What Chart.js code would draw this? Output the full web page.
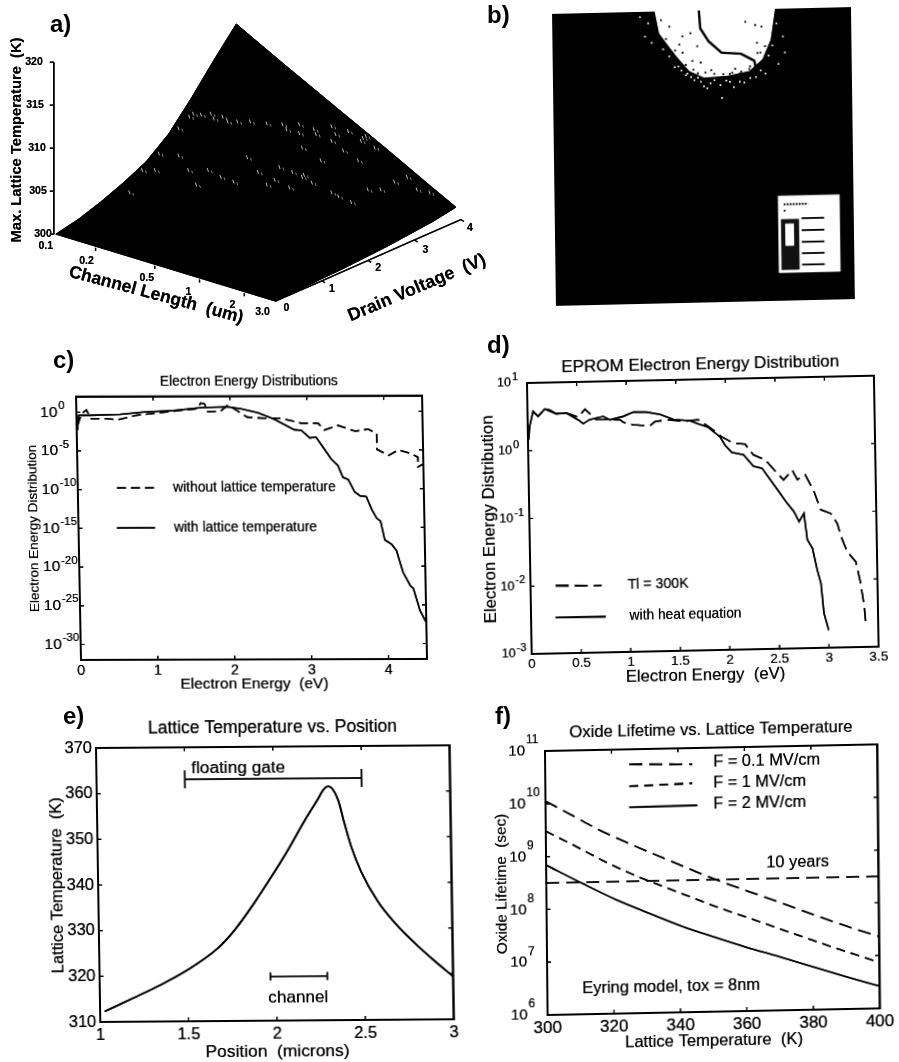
<!DOCTYPE html>
<html><head><meta charset="utf-8"><title>Lattice temperature figure</title>
<style>
html,body{margin:0;padding:0;background:#fff;width:899px;height:1062px;overflow:hidden}
#page{position:relative;width:899px;height:1062px;overflow:hidden}
canvas{position:absolute;display:block;filter:blur(.3px) drop-shadow(0 0 .45px rgba(0,0,0,.85))}
.lab{position:absolute;font:bold 24px "Liberation Sans",Arial,sans-serif;color:#000;line-height:1;filter:blur(.3px)}
</style></head><body><div id="page"></div>
<script src="https://cdn.jsdelivr.net/npm/chart.js@4"></script>
<script>
/* ---------- a) surface ---------- */
const aLengths=[0.1,0.2,0.5,1,2,3];
const aLengthLabels=['0.1','0.2','0.5','1','2','3.0'];
const aVoltages=[0,0.5,1,1.5,2,2.5,3,3.5,4];
const aTempAtShortChannel=[300,300.5,301.3,302.3,303.5,305.5,308.4,311.6,314.6];
const aTempAtLongChannel=[300,300,300.1,300.1,300.2,300.3,300.5,300.7,301.1];
const aTempAtMaxVoltage=[314.6,311.8,308.2,305.5,302.7,301.1];
const aTempTicks=[300,305,310,315,320];
const aVoltTicks=[0,1,2,3,4];
const aSpeckleX=[188,200,210,222,237,250,267,283,300,315,333,350,363,377,177,192,213,227,287,300,317,337,365,303,333,127,140,153,157,177,187,207,220,233,247,293,303,313,333,340,353,370,383,397,410,420,433,360,280,267,195,258,275,290,305,322,345,368];
const aSpeckleY=[115,113,112,115,120,120,122,123,123,128,125,130,140,147,127,112,117,120,128,132,133,133,137,147,140,193,170,170,153,155,170,170,177,182,157,172,177,183,193,197,203,190,190,182,177,190,193,160,167,185,185,172,180,188,175,160,150,135];
/* ---------- b) contour image ---------- */
const bBlobU=[34.5,35.9,38.6,41.9,45.7,50.5,58.1,65.7,70,72.8,74.4,74.4,34.5];
const bBlobV=[0,7.5,11.4,15.9,20.5,22.8,22.4,20.9,17.1,10.5,0,0,0];
const bContourU=[49.1,49.5,52.2,56.5,63,67.4,68.1];
const bContourV=[0,6.1,10.6,14.6,15.1,17.6,20.9];
const bDarkSpeckU=[39.2,43.5,46.2,42.4,49.5,46.7,48.4,43.5,64.6,67.9,70,68.4,71.1,69.5,65.7,59.2,62.5,36.4,38,41,44.5,47,51,54,57,60,63,66,48.5,53,61,68.5];
const bDarkSpeckV=[5.3,8.7,7.7,11.5,17.8,17.2,12.2,14.3,4.2,5.4,6,11.5,12.7,14.9,20.4,21.9,21.9,3,9.5,13.5,18.5,20.2,21.3,21.8,22,21.5,21.2,19.5,21.5,20.5,20.2,15];
const bLightSpeckU=[47.3,49.5,52.7,56,59.2,62.5,67.9,32.1,31,33.2,29.4,77.1,77.7,75.5,56.5,51.6,46.2,71.1,40.8,43,72.2,45,48.5,50.5,54,58,60.5,64,66,69.5,73.5,75,37,39,42,44.5];
const bLightSpeckV=[23.8,24.4,25,25.7,24.6,24.7,23.2,4,8.5,10.7,1.8,9.5,15,18.9,30.1,26.7,22.7,22.1,19.2,20.4,16,21.5,23,26,24,24.2,26.5,25,23.5,21,12.5,5,13,15.5,19,22];
const bKeyLevels=[71.9,76,80,83.9,87.8];
/* ---------- c) ---------- */
const cWithX=[0.01,0.03,0.18,0.57,0.88,1.27,1.62,1.97,2.14,2.36,2.57,2.83,2.92,3.03,3.11,3.26,3.30,3.39,3.45,3.52,3.60,3.67,3.75,3.82,3.88,3.93,3.98,4.07,4.13,4.21,4.30,4.34,4.42,4.5];
const cWithLog=[-2.3,-0.4,-0.4,-0.3,0,0.2,0.55,0.64,0.38,-0.13,-0.98,-2.34,-2.42,-3.4,-3.3,-5.5,-6.1,-7,-8.5,-8.8,-10.4,-10.9,-11,-12.7,-13.8,-14.2,-16.6,-17.2,-18,-20.8,-22.5,-22.9,-25.7,-27.3];
const cWithoutX=[0.01,0.07,0.13,0.19,0.4,0.53,0.79,1.05,1.35,1.57,1.62,1.67,1.71,1.88,1.97,2.05,2.22,2.44,2.66,2.92,3.14,3.22,3.4,3.62,3.79,3.9,3.9,4.05,4.18,4.35,4.43,4.43,4.5];
const cWithoutLog=[-1.7,-0.2,0.3,-0.85,-0.85,-1,-0.4,-0.13,0.2,0.4,1.15,1,0,0.1,0.85,0.4,-0.7,-0.85,-0.85,-1.5,-1.5,-2.4,-1.8,-2.55,-2.3,-2.85,-4.9,-5.7,-5,-5.5,-5.95,-7.2,-6.8];
const cXTicks=[0,1,2,3,4];
const cYTicks=[0,-5,-10,-15,-20,-25,-30];
/* ---------- d) ---------- */
const dHeatX=[0.007,0.02,0.056,0.106,0.174,0.225,0.29,0.39,0.51,0.56,0.625,0.763,0.83,0.966,1.067,1.2,1.337,1.47,1.64,1.72,1.82,1.94,1.99,2.055,2.17,2.27,2.355,2.52,2.6,2.67,2.72,2.77,2.8,2.85,2.895,2.93,2.955,3.0];
const dHeatLog=[0.16,0.36,0.58,0.505,0.61,0.595,0.537,0.545,0.44,0.382,0.44,0.483,0.43,0.478,0.537,0.533,0.495,0.417,0.392,0.342,0.29,0.14,0.014,-0.088,-0.125,-0.3,-0.33,-0.68,-0.85,-0.98,-1.13,-1.01,-1.4,-1.53,-1.85,-2.05,-2.49,-2.74];
const dTl300X=[0.056,0.106,0.174,0.29,0.39,0.51,0.58,0.69,0.93,0.965,1.065,1.23,1.285,1.4,1.57,1.72,1.87,1.95,2.07,2.19,2.27,2.39,2.49,2.57,2.66,2.71,2.79,2.875,2.94,3.04,3.105,3.14,3.2,3.285,3.325,3.36,3.375];
const dTl300Log=[0.58,0.505,0.61,0.537,0.545,0.48,0.595,0.44,0.43,0.39,0.35,0.33,0.39,0.415,0.385,0.405,0.25,0.15,0.05,0.03,-0.13,-0.21,-0.38,-0.51,-0.37,-0.51,-0.44,-0.69,-0.96,-1.02,-1.17,-1.36,-1.59,-1.74,-2.02,-2.37,-2.64];
const dXTicks=[0,0.5,1,1.5,2,2.5,3,3.5];
const dYTicks=[1,0,-1,-2,-3];
/* ---------- e) ---------- */
const ePosition=[1.026,1.19,1.344,1.497,1.67,1.766,1.88,1.979,2.076,2.173,2.25,2.285,2.31,2.335,2.365,2.40,2.436,2.49,2.58,2.675,2.806,2.90,3.0];
const eTemperature=[312.3,315.2,318,321.2,325.9,329.8,335.7,341.4,347.3,353.7,358.4,360.6,361.2,360.6,358.2,352.9,347.9,342.4,336,331.2,326,322.7,319.4];
const eFloatingGateX=[1.5,2.5];
const eFloatingGateY=[363,363];
const eChannelX=[1.966,2.288];
const eChannelY=[319.7,319.7];
const eXTicks=[1,1.5,2,2.5,3];
const eYTicks=[310,320,330,340,350,360,370];
/* ---------- f) ---------- */
const fSolidX=[300,311.1,320.9,330.8,340.7,350.5,360.4,370.3,380.1,390,400];
const fSolidLog=[8.84,8.47,8.16,7.89,7.63,7.41,7.20,7.01,6.81,6.61,6.42];
const fLowX=[300,308.3,316.2,325.6,334.9,344.3,348.7,352.2,360.6,370.4,380.3,390.2,400];
const fLowLog=[10.05,9.76,9.48,9.20,8.94,8.68,8.56,8.47,8.27,8.04,7.80,7.57,7.36];
const fMidX=[300,308.2,318.1,326,334.8,344.2,352.6,360.5,370.3,380.2,388.1,395,400];
const fMidLog=[9.48,9.21,8.87,8.63,8.40,8.16,7.95,7.77,7.54,7.31,7.13,6.98,6.87];
const fTenYearsX=[300,400];
const fTenYearsLog=[8.5,8.5];
const fXTicks=[300,320,340,360,380,400];
const fYTicks=[11,10,9,8,7,6];

const FONT='"Liberation Sans",Arial,sans-serif';
const page=document.getElementById('page');
const xy=(xs,ys)=>xs.map((x,i)=>({x,y:ys[i]}));
const logxy=(xs,ys)=>xs.map((x,i)=>({x,y:Math.pow(10,ys[i])}));
const pow10=a=>a.map(e=>Math.pow(10,e));
const setTicks=vals=>s=>{s.ticks=vals.map(value=>({value}));};
const curve=(data,dash,w)=>({data,showLine:true,pointRadius:0,borderColor:'#000',borderWidth:w||1.6,borderDash:dash||[],tension:0,fill:false});
const smooth=d=>Object.assign(d,{cubicInterpolationMode:'monotone'});

function panel(p){
  const w=p.tr[0]-p.tl[0],h=p.bl[1]-p.tl[1];
  const b=(p.tr[1]-p.tl[1])/w,c=(p.bl[0]-p.tl[0])/h,det=1-b*c;
  const L=p.left||0,T=p.top||0,R=p.right||0,B=p.bottom||0;
  const cv=document.createElement('canvas');
  cv.width=Math.round(w+L+R);cv.height=Math.round(h+T+B);
  cv.style.left=(p.tl[0]-L)+'px';cv.style.top=(p.tl[1]-T)+'px';
  cv.style.transformOrigin=L+'px '+T+'px';
  cv.style.transform='matrix(1,'+b+','+c+',1,0,0)';
  page.appendChild(cv);
  const loc=(x,y)=>{const dx=x-p.tl[0],dy=y-p.tl[1];return [L+(dx-c*dy)/det,T+(dy-b*dx)/det];};
  const decor={id:'decor',afterDraw(ch){
    const ctx=ch.ctx,a=ch.chartArea;
    ctx.save();ctx.fillStyle='#000';ctx.strokeStyle='#000';ctx.lineCap='butt';
    if(p.frame){
      ctx.setLineDash([]);ctx.lineWidth=p.frame;
      ctx.strokeRect(a.left,a.top,a.right-a.left,a.bottom-a.top);
      ctx.lineWidth=1.2;ctx.beginPath();
      ch.scales.x.ticks.forEach(t=>{const X=ch.scales.x.getPixelForValue(t.value);
        ctx.moveTo(X,a.bottom);ctx.lineTo(X,a.bottom-4);ctx.moveTo(X,a.top);ctx.lineTo(X,a.top+4);});
      ch.scales.y.ticks.forEach(t=>{const Y=ch.scales.y.getPixelForValue(t.value);
        ctx.moveTo(a.left,Y);ctx.lineTo(a.left+4,Y);ctx.moveTo(a.right,Y);ctx.lineTo(a.right-4,Y);});
      ctx.stroke();
    }
    if(p.exp){
      ctx.font=p.exp.size+'px '+FONT;ctx.textAlign='left';ctx.textBaseline='middle';
      ch.scales.y.ticks.forEach(t=>{const Y=ch.scales.y.getPixelForValue(t.value);
        ctx.fillText(String(Math.round(Math.log10(t.value))),a.left-p.exp.pad+1,Y+p.exp.dy);});
    }
    (p.lines||[]).forEach(l=>{const s=loc(l[0],l[1]),e=loc(l[2],l[3]);
      ctx.lineWidth=l[5]||1.6;ctx.setLineDash(l[4]||[]);ctx.beginPath();ctx.moveTo(s[0],s[1]);ctx.lineTo(e[0],e[1]);ctx.stroke();});
    ctx.setLineDash([]);
    (p.notes||[]).forEach(n=>{
      const q=loc(n.x,n.y),wt=n.bold?'bold ':'';let sz=n.size||12;
      ctx.font=wt+sz+'px '+FONT;
      if(n.w){sz=sz*n.w/ctx.measureText(n.t).width;ctx.font=wt+sz+'px '+FONT;}
      ctx.textAlign=n.align||'left';ctx.textBaseline='middle';
      ctx.save();ctx.translate(q[0],q[1]);if(n.rot)ctx.rotate(n.rot*Math.PI/180);ctx.fillText(n.t,0,0);ctx.restore();
    });
    if(p.draw)p.draw(ch,ctx);
    ctx.restore();
  }};
  const cfg=p.config;
  cfg.options=Object.assign({responsive:false,animation:false,devicePixelRatio:1,events:[]},cfg.options);
  cfg.options.plugins=Object.assign({legend:{display:false},tooltip:{enabled:false}},cfg.options.plugins);
  cfg.plugins=[decor];
  return new Chart(cv,cfg);
}
function stdOptions(o){
  return {
    layout:{padding:{left:0,top:0,right:o.right,bottom:0}},
    plugins:{title:{display:true,text:o.title,fullSize:false,color:'#000',
      font:{family:FONT,size:o.titleSize,weight:'normal',lineHeight:1},
      padding:{top:o.top-o.titleDist-o.titleSize/2,bottom:o.titleDist-o.titleSize/2}}},
    scales:{
      x:{type:'linear',min:o.xMin,max:o.xMax,afterBuildTicks:setTicks(o.xTicks),
        afterFit:s=>{s.height=o.bottom;},
        grid:{display:false,drawTicks:false},border:{display:false},
        ticks:{autoSkip:false,maxRotation:0,minRotation:0,color:'#000',font:{family:FONT,size:o.xTickSize,lineHeight:1},padding:o.xPad,callback:v=>String(v)},
        title:{display:true,text:o.xTitle,color:'#000',padding:0,font:{family:FONT,size:o.xTitleSize,lineHeight:1}}},
      y:{type:o.yLog?'logarithmic':'linear',min:o.yMin,max:o.yMax,afterBuildTicks:setTicks(o.yTicks),
        afterFit:s=>{s.width=o.left;},
        grid:{display:false,drawTicks:false},border:{display:false},
        ticks:{autoSkip:false,color:'#000',font:{family:FONT,size:o.yTickSize,lineHeight:1},padding:o.yPad,callback:o.yLog?()=>'10':v=>String(v)},
        title:{display:true,text:o.yTitle,color:'#000',padding:0,font:{family:FONT,size:o.yTitleSize,lineHeight:1}}}
    }
  };
}

/* ---------- panel a ---------- */
const proj=(len,volt,temp)=>{
  const u=Math.log(len/0.1)/Math.log(30);
  return {x:52+224*u+184*volt/4,y:236+69*u-87*volt/4-8.85*(temp-300)};
};
const axisV=v=>({x:276+47.25*v,y:305-21*v});
const aOutline=[
  ...aLengths.map(l=>proj(l,0,300)),
  ...aVoltages.map((v,i)=>proj(3,v,aTempAtLongChannel[i])),
  ...aLengths.slice().reverse().map((l,i)=>proj(l,4,aTempAtMaxVoltage[aLengths.length-1-i])),
  ...aVoltages.slice().reverse().map((v,i)=>proj(0.1,v,aTempAtShortChannel[aVoltages.length-1-i]))
];
const aTickOffsets=[[-10,12],[-14,13],[-13,12],[-16,13],[-17,12],[-13,11]];
const aVoltOffsets=[[11,7],[10,8],[10,8],[11,10],[9,9]];
const aTempOffsets=[4,9,10,12,13];
panel({tl:[0,0],tr:[500,0],bl:[0,340],
  notes:[
    {t:'Max. Lattice Temperature  (K)',x:17,y:140,rot:-90,bold:true,align:'center',w:205,size:13},
    {t:'Channel Length  (um)',x:156,y:295,rot:15,bold:true,align:'center',w:180,size:15},
    {t:'Drain Voltage  (V)',x:417,y:288,rot:-23,bold:true,align:'center',w:148,size:14}
  ],
  draw(ch,ctx){
    const X=ch.scales.x,Y=ch.scales.y;
    ctx.font='bold 10.5px '+FONT;ctx.textBaseline='middle';
    ctx.strokeStyle='#000';ctx.lineWidth=1.3;ctx.beginPath();
    aTempTicks.forEach((t,i)=>{
      const q=proj(0.1,0,t),px=X.getPixelForValue(q.x),py=Y.getPixelForValue(q.y);
      ctx.moveTo(px-2,py);ctx.lineTo(px-6,py);
      ctx.textAlign='right';ctx.fillText(String(t),px-aTempOffsets[i],py);
    });
    aLengths.forEach((l,i)=>{
      const q=proj(l,0,300),px=X.getPixelForValue(q.x),py=Y.getPixelForValue(q.y);
      if(i>0&&i<aLengths.length-1){ctx.moveTo(px-5,py);ctx.lineTo(px-5,py+3);}
      ctx.textAlign='center';
      ctx.fillText(aLengthLabels[i],px+aTickOffsets[i][0],py+aTickOffsets[i][1]);
    });
    aVoltTicks.forEach((v,i)=>{
      const q=axisV(v),px=X.getPixelForValue(q.x),py=Y.getPixelForValue(q.y);
      if(v>0){ctx.moveTo(px,py);ctx.lineTo(px+3,py+2);}
      ctx.textAlign='center';ctx.fillText(String(v),px+aVoltOffsets[i][0],py+aVoltOffsets[i][1]);
    });
    ctx.stroke();
  },
  config:{type:'scatter',data:{datasets:[
    {data:xy(aSpeckleX,aSpeckleY),pointStyle:'line',rotation:72,pointRadius:2,pointBorderColor:'#eee',pointBorderWidth:.8,showLine:false},
    {data:xy(aSpeckleX.map(x=>x+4),aSpeckleY.map(y=>y+2)),pointStyle:'line',rotation:72,pointRadius:1.5,pointBorderColor:'#bbb',pointBorderWidth:.7,showLine:false},
    Object.assign(curve(aOutline,[],1),{fill:'shape',backgroundColor:'#000'}),
    curve(aTempTicks.map(t=>{const q=proj(0.1,0,t);return {x:q.x-2,y:q.y};}),[],1.5),
    curve(aVoltTicks.map(axisV),[],1.4)
  ]},options:{layout:{padding:0},
    scales:{x:{type:'linear',display:false,min:0,max:500},y:{type:'linear',display:false,min:0,max:340,reverse:true}}}}
});

/* ---------- panel b ---------- */
const rect=(u0,u1,v0,v1)=>[{x:u0,y:v0},{x:u1,y:v0},{x:u1,y:v1},{x:u0,y:v1},{x:u0,y:v0}];
const box=(u0,u1,v0,v1,col)=>Object.assign(curve(rect(u0,u1,v0,v1),[],.5),{fill:'shape',backgroundColor:col,borderColor:col});
panel({tl:[548,10],tr:[855,3],bl:[552,310],
  config:{type:'scatter',data:{datasets:[
    curve(xy(bContourU,bContourV),[],2.4),
    {data:xy(bDarkSpeckU,bDarkSpeckV),pointStyle:'rect',pointRadius:1.3,pointBackgroundColor:'#000',pointBorderWidth:0,showLine:false},
    {data:xy(bLightSpeckU,bLightSpeckV),pointStyle:'rect',pointRadius:1.2,pointBackgroundColor:'#fff',pointBorderWidth:0,showLine:false},
    ...bKeyLevels.map(v=>curve([{x:82.5,y:v},{x:90.1,y:v}],[],1.8)),
    curve([{x:76.6,y:67},{x:84.7,y:67}],[2,1],1.8),
    curve([{x:76.6,y:69.2},{x:77.2,y:69.2}],[],1.8),
    box(77.1,79.8,73.7,81.2,'#fff'),
    box(75.7,81.5,72.2,89.4,'#111'),
    box(74.8,95.2,64.1,90.4,'#fff'),
    Object.assign(curve(xy(bBlobU,bBlobV),[],1),{fill:'shape',backgroundColor:'#fff',borderColor:'#fff'}),
    box(0,100,0,100,'#000')
  ]},options:{layout:{padding:0},
    scales:{x:{type:'linear',display:false,min:0,max:100},y:{type:'linear',display:false,min:0,max:100,reverse:true}}}}
});

/* ---------- panel c ---------- */
panel({tl:[76,393],tr:[422,392],bl:[81,660],left:51,top:23,right:14,bottom:32,frame:2,
  exp:{size:11.5,pad:19,dy:-6.5},
  lines:[[117,488,155,488,[9,5],1.8],[117,528,155,528,[],1.8]],
  notes:[
    {t:'without lattice temperature',x:173,y:488,w:163,size:12},
    {t:'with lattice temperature',x:174,y:528,w:143,size:12}],
  config:{type:'scatter',data:{datasets:[
    curve(logxy(cWithX,cWithLog)),
    curve(logxy(cWithoutX,cWithoutLog),[9,5])
  ]},options:stdOptions({left:51,top:23,right:14,bottom:32,title:'Electron Energy Distributions',titleSize:13.8,titleDist:14.5,
    xMin:0,xMax:4.5,xTicks:cXTicks,xTitle:'Electron Energy  (eV)',xTitleSize:15.5,xTickSize:14.5,xPad:4,
    yLog:true,yMin:1e-32,yMax:1e2,yTicks:pow10(cYTicks),yTitle:'Electron Energy Distribution',yTitleSize:13.5,yTickSize:15.5,yPad:19})}
});

/* ---------- panel d ---------- */
panel({tl:[527.3,383.3],tr:[874,376],bl:[532,654],left:48,top:25,right:18,bottom:34,frame:2,
  exp:{size:11,pad:16,dy:-6},
  lines:[[556,586,602,586,[13,6],1.8],[556,618,606,617,[],1.8]],
  notes:[
    {t:'Tl = 300K',x:628,y:585,w:61,size:13},
    {t:'with heat equation',x:630,y:616,w:112,size:13}],
  config:{type:'scatter',data:{datasets:[
    curve(logxy(dHeatX,dHeatLog)),
    curve(logxy(dTl300X,dTl300Log),[13,6])
  ]},options:stdOptions({left:48,top:25,right:18,bottom:34,title:'EPROM Electron Energy Distribution',titleSize:17,titleDist:15,
    xMin:0,xMax:3.5,xTicks:dXTicks,xTitle:'Electron Energy  (eV)',xTitleSize:16.7,xTickSize:13.5,xPad:4,
    yLog:true,yMin:1e-3,yMax:1e1,yTicks:pow10(dYTicks),yTitle:'Electron Energy Distribution',yTitleSize:16.8,yTickSize:12.5,yPad:16})}
});

/* ---------- panel e ---------- */
panel({tl:[95.7,747.7],tr:[449.5,745],bl:[100,1022],left:49,top:29,right:10,bottom:40,frame:2,
  notes:[
    {t:'floating gate',x:191,y:768,w:94,size:14.5},
    {t:'channel',x:268,y:998,w:60,size:14.5}],
  config:{type:'scatter',data:{datasets:[
    smooth(curve(xy(ePosition,eTemperature),[],1.8)),
    Object.assign(curve(xy(eFloatingGateX,eFloatingGateY),[],1.5),{pointStyle:'line',rotation:90,pointRadius:9,pointBorderColor:'#000',pointBorderWidth:1.5}),
    Object.assign(curve(xy(eChannelX,eChannelY),[],1.5),{pointStyle:'line',rotation:90,pointRadius:4,pointBorderColor:'#000',pointBorderWidth:1.5})
  ]},options:stdOptions({left:49,top:29,right:10,bottom:40,title:'Lattice Temperature vs. Position',titleSize:17.5,titleDist:18.5,
    xMin:1,xMax:3,xTicks:eXTicks,xTitle:'Position  (microns)',xTitleSize:17.4,xTickSize:16.5,xPad:5,
    yMin:310,yMax:370,yTicks:eYTicks,yTitle:'Lattice Temperature  (K)',yTitleSize:16.4,yTickSize:16.5,yPad:4})}
});

/* ---------- panel f ---------- */
panel({tl:[544.7,750.7],tr:[881,744],bl:[547.3,1015],left:52,top:28,right:15,bottom:38,frame:2,
  exp:{size:12,pad:20,dy:-11},
  lines:[[629,764,692,764,[13,7],1.8],[629,786,692,783,[9,6],1.8],[629,807,697,805,[],1.8]],
  notes:[
    {t:'F = 0.1 MV/cm',x:713,y:762,w:107,size:15},
    {t:'F = 1 MV/cm',x:713,y:783,w:93,size:15},
    {t:'F = 2 MV/cm',x:713,y:804,w:93,size:15},
    {t:'10 years',x:766,y:863,w:63,size:14.5},
    {t:'Eyring model, tox = 8nm',x:582,y:988,w:178,size:15}],
  config:{type:'scatter',data:{datasets:[
    smooth(curve(logxy(fSolidX,fSolidLog))),
    smooth(curve(logxy(fLowX,fLowLog),[13,7])),
    smooth(curve(logxy(fMidX,fMidLog),[9,6])),
    curve(logxy(fTenYearsX,fTenYearsLog),[13,7])
  ]},options:stdOptions({left:52,top:28,right:15,bottom:38,title:'Oxide Lifetime vs. Lattice Temperature',titleSize:16.6,titleDist:18,
    xMin:300,xMax:400,xTicks:fXTicks,xTitle:'Lattice Temperature  (K)',xTitleSize:16.6,xTickSize:17,xPad:4.5,
    yLog:true,yMin:1e6,yMax:1e11,yTicks:pow10(fYTicks),yTitle:'Oxide Lifetime  (sec)',yTitleSize:15.3,yTickSize:15,yPad:20})}
});

/* ---------- panel letters ---------- */
[['a)',50,12],['b)',487,3],['c)',53,348],['d)',487,333],['e)',63,704],['f)',495,704]].forEach(l=>{
  const d=document.createElement('div');d.className='lab';d.textContent=l[0];
  d.style.left=l[1]+'px';d.style.top=l[2]+'px';page.appendChild(d);
});
</script></body></html>
